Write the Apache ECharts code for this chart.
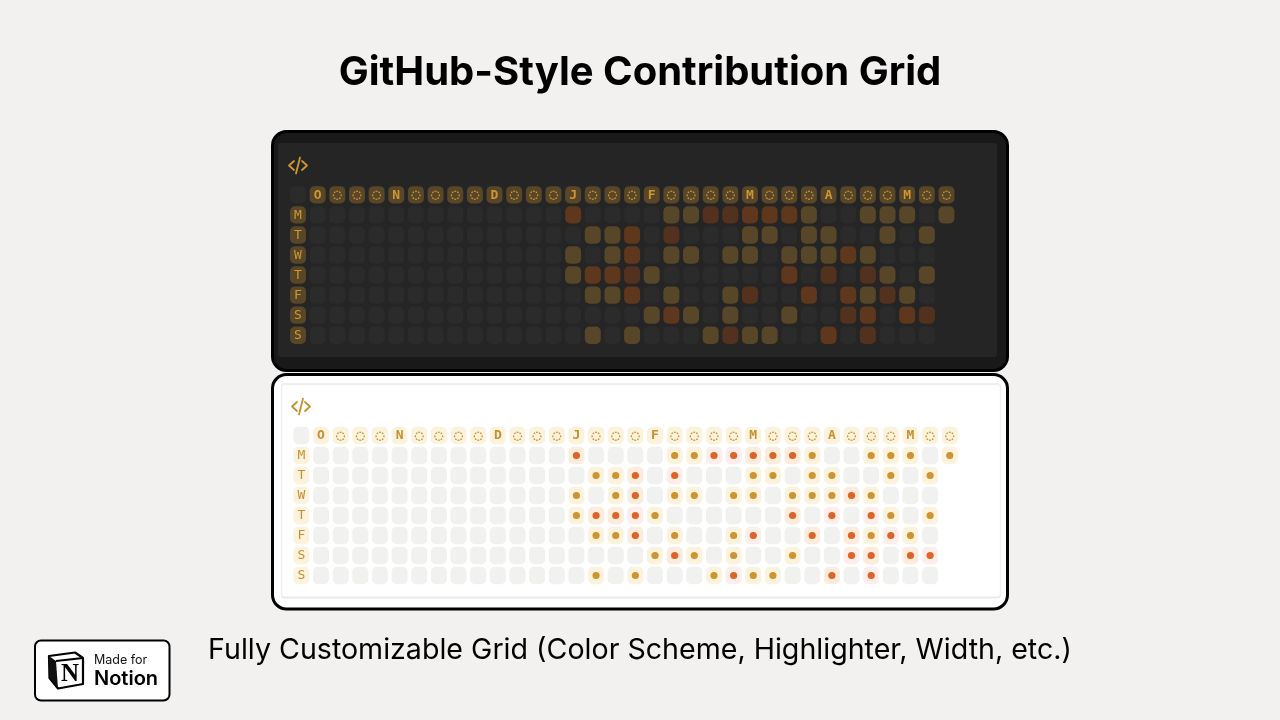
<!DOCTYPE html>
<html><head><meta charset="utf-8">
<style>html,body{margin:0;padding:0;background:#f2f1ef}#c{width:1280px;height:720px}</style>
<script src="https://cdn.jsdelivr.net/npm/echarts@6/dist/echarts.min.js"></script>
</head><body><div id="c"></div>
<script>
// Column headers: first entry is the blank corner, "◌" marks a week without a month label
var weekHeaders = ['', 'O','◌','◌','◌','N','◌','◌','◌','◌','D','◌','◌','◌','J','◌','◌','◌','F','◌','◌','◌','◌','M','◌','◌','◌','A','◌','◌','◌','M','◌','◌'];
var dayLabels = ['M','T','W','T','F','S','S'];
// Activity level per week (0 none, 1 amber, 2 orange, 3 red); rows end where the data ends
var monday    = [0,0,0,0,0,0,0,0,0,0,0,0,0,2,0,0,0,0,1,1,3,3,2,2,2,1,0,0,1,1,1,0,1];
var tuesday   = [0,0,0,0,0,0,0,0,0,0,0,0,0,0,1,1,2,0,3,0,0,0,1,1,0,1,1,0,0,1,0,1];
var wednesday = [0,0,0,0,0,0,0,0,0,0,0,0,0,1,0,1,2,0,1,1,0,1,1,0,1,1,1,2,1,0,0,0];
var thursday  = [0,0,0,0,0,0,0,0,0,0,0,0,0,1,2,2,3,1,0,0,0,0,0,0,2,0,3,0,3,1,0,1];
var friday    = [0,0,0,0,0,0,0,0,0,0,0,0,0,0,1,1,2,0,1,0,0,1,3,0,0,2,0,2,1,3,1,0];
var saturday  = [0,0,0,0,0,0,0,0,0,0,0,0,0,0,0,0,0,1,2,1,0,1,0,0,1,0,0,3,2,0,2,3];
var sunday    = [0,0,0,0,0,0,0,0,0,0,0,0,0,0,1,0,1,0,0,0,1,3,1,1,0,0,2,0,3,0,0,0];
var weeks = [monday,tuesday,wednesday,thursday,friday,saturday,sunday];

var darkTheme = {corner:'#2b2b2b', head:'#584628', text:'#d1962f', bg:['#2b2b2b','#584628','#5e371c','#53311f'], dot:null};
var lightTheme = {corner:'#f1f1ef', head:'#fbf3dd', text:'#c98f2f', bg:['#f1f1ef','#fbf3dd','#fbecdd','#fdeeec'], dot:[null,'#cf942f','#dc6425','#dc6425']};

var cells = [];
weekHeaders.forEach(function(t,i){cells.push({col:i,row:0,kind:i===0?'corner':'head',text:t});});
dayLabels.forEach(function(d,r){
  cells.push({col:0,row:r+1,kind:'head',text:d});
  weeks[r].forEach(function(v,c){cells.push({col:c+1,row:r+1,kind:'cell',level:v});});
});
var colCats = weekHeaders.map(function(_,i){return String(i);});
var rowCats = ['h'].concat(dayLabels.map(function(_,i){return 'r'+i;}));
var seriesData = cells.map(function(c){return [c.col,c.row];});

function renderer(theme,w,h){
  return function(params,api){
    var c = cells[params.dataIndex];
    var p = api.coord([api.value(0),api.value(1)]);
    var fill = c.kind==='cell'?theme.bg[c.level]:(c.kind==='corner'?theme.corner:theme.head);
    var kids = [{type:'rect',shape:{x:p[0]-w/2,y:p[1]-h/2,width:w,height:h,r:5},style:{fill:fill}}];
    if(c.kind==='head'&&c.text){
      var bold = c.row===0;
      kids.push({type:'text',style:{text:c.text,x:p[0],y:p[1]+0.5,fill:theme.text,align:'center',verticalAlign:'middle',
        font:(bold?'bold ':'')+(c.text==='◌'?'15px':'13px')+' "DejaVu Sans Mono"'}});
    }
    if(c.kind==='cell'&&theme.dot&&theme.dot[c.level]){
      kids.push({type:'circle',shape:{cx:p[0],cy:p[1],r:3.6},style:{fill:theme.dot[c.level]}});
    }
    return {type:'group',children:kids};
  };
}
function codeIcon(x,y,color){
  var ln={stroke:color,lineWidth:1.8,fill:null,lineCap:'round',lineJoin:'round'};
  return [
    {type:'polyline',z:5,shape:{points:[[x+6,y+4],[x+1,y+8.5],[x+6,y+13]]},style:ln},
    {type:'polyline',z:5,shape:{points:[[x+14,y+4],[x+19,y+8.5],[x+14,y+13]]},style:ln},
    {type:'line',z:5,shape:{x1:x+8,y1:y+16.5,x2:x+12,y2:y+0.5},style:ln}
  ];
}
var decor = [
  {type:'rect',z:1,shape:{x:272.5,y:131.5,width:735,height:239,r:14},style:{fill:'#191919',stroke:'#000',lineWidth:3}},
  {type:'rect',z:2,shape:{x:278,y:143,width:719,height:214,r:3},style:{fill:'#252525'}},
  {type:'rect',z:1,shape:{x:272.5,y:374.5,width:735,height:234.5,r:14},style:{fill:'#fff',stroke:'#000',lineWidth:3}},
  {type:'rect',z:2,shape:{x:281.5,y:383.5,width:719,height:213.5,r:3},style:{fill:'#fff',stroke:'#efefed',lineWidth:1,shadowColor:'rgba(0,0,0,0.08)',shadowBlur:1,shadowOffsetY:1}},
  {type:'rect',z:1,shape:{x:35,y:640.5,width:134.5,height:60,r:6},style:{fill:'#fff',stroke:'#000',lineWidth:2}},
  {type:'polygon',z:3,shape:{points:[[49,656],[75,652.5],[83,658],[83,684],[58,688.5],[49.5,678]]},style:{fill:'#fff',stroke:'#000',lineWidth:2.2,lineJoin:'round'}},
  {type:'polygon',z:4,shape:{points:[[49,656],[56,661],[58,688.5],[49.5,678]]},style:{fill:'#111'}},
  {type:'line',z:4,shape:{x1:56,y1:661,x2:83,y2:658},style:{stroke:'#000',lineWidth:2.2}},
  {type:'text',z:5,style:{text:'N',x:70,y:674.5,fill:'#000',align:'center',verticalAlign:'middle',font:'bold 25px "Liberation Serif"'}},
  {type:'text',z:5,style:{text:'Made for',x:94,y:660,fill:'#111',verticalAlign:'middle',font:'12.5px Inter'}},
  {type:'text',z:5,style:{text:'Notion',x:94,y:679,fill:'#000',verticalAlign:'middle',font:'600 20px Inter'}},
  {type:'text',z:5,style:{text:'Fully Customizable Grid (Color Scheme, Highlighter, Width, etc.)',x:640,y:650,fill:'#000',align:'center',verticalAlign:'middle',font:'400 28.6px Inter'}}
].concat(codeIcon(288,157,'#d1962f')).concat(codeIcon(291,398,'#c98f2f'));

var chart = echarts.init(document.getElementById('c'),null,{renderer:'canvas',width:1280,height:720});
chart.setOption({
  animation:false,
  backgroundColor:'#f2f1ef',
  title:{text:'GitHub-Style Contribution Grid',left:'center',top:48,textStyle:{fontFamily:'Inter',fontWeight:700,fontSize:40,color:'#000'}},
  graphic:decor,
  grid:[
    {left:288.2,top:184.8,width:668.1,height:160.4,z:10},
    {left:291.5,top:425.5,width:668.1,height:160,z:10}
  ],
  xAxis:[
    {type:'category',gridIndex:0,data:colCats,show:false},
    {type:'category',gridIndex:1,data:colCats,show:false}
  ],
  yAxis:[
    {type:'category',gridIndex:0,data:rowCats,inverse:true,show:false},
    {type:'category',gridIndex:1,data:rowCats,inverse:true,show:false}
  ],
  series:[
    {type:'custom',xAxisIndex:0,yAxisIndex:0,z:10,silent:true,clip:false,data:seriesData,renderItem:renderer(darkTheme,16,17.4)},
    {type:'custom',xAxisIndex:1,yAxisIndex:1,z:10,silent:true,clip:false,data:seriesData,renderItem:renderer(lightTheme,16,17.4)}
  ]
});
</script></body></html>
